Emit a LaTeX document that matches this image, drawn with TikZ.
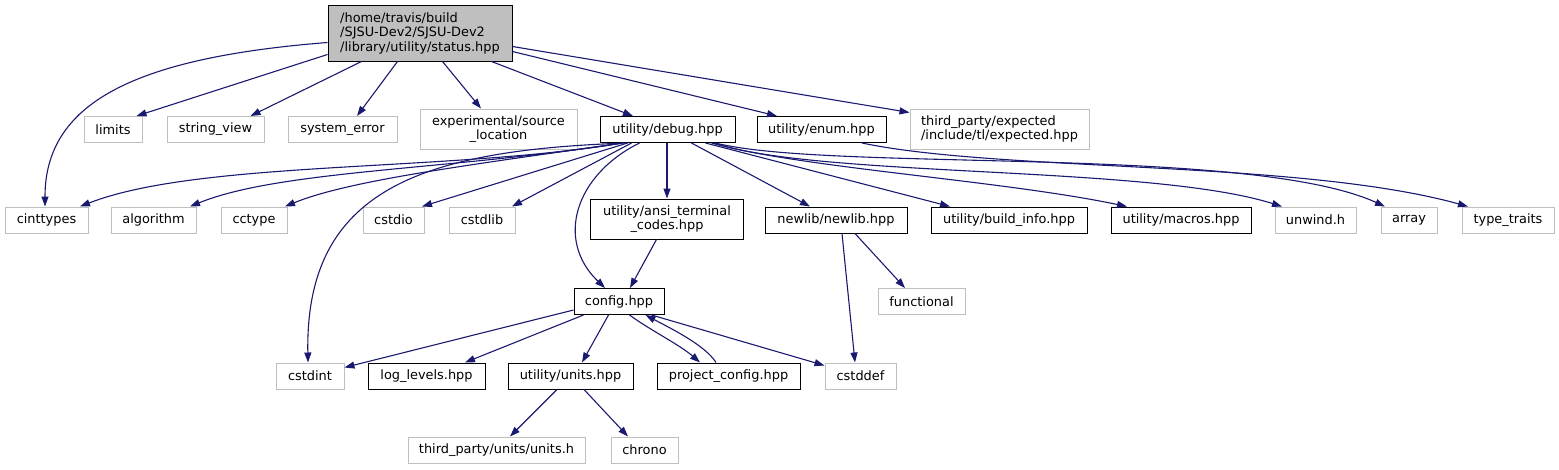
\documentclass[tikz,border=0pt]{standalone}
\usepackage{fontspec}
\setmainfont{DejaVu Sans}
\usetikzlibrary{arrows.meta}
\definecolor{edgeblue}{HTML}{191970}
\definecolor{extgrey}{HTML}{BFBFBF}
\tikzset{
  basebox/.style={rectangle, inner sep=0pt, minimum height=26pt, line width=1pt,
    font=\fontsize{12.9}{14.5}\selectfont},
  docbox/.style={basebox, draw=black},
  extbox/.style={basebox, draw=extgrey},
  dep/.style={draw=edgeblue, line width=1.1pt, -{Triangle[length=10pt,width=7pt]}}
}
\begin{document}
\begin{tikzpicture}[x=1pt,y=-1pt]
\path[use as bounding box] (0,0) rectangle (1559,469);
% top
\node[docbox, fill=extgrey, minimum width=184pt, minimum height=56pt, align=left] (status) at (420,33) {/home/travis/build\\/SJSU-Dev2/SJSU-Dev2\\/library/utility/status.hpp};
% row 1
\node[extbox, minimum width=58pt] (limits) at (113,129.5) {limits};
\node[extbox, minimum width=97pt] (stringview) at (215.5,129.5) {string\_view};
\node[extbox, minimum width=109pt] (syserr) at (342.5,129.5) {system\_error};
\node[extbox, minimum width=157pt, minimum height=40pt, align=center] (exper) at (498.5,129) {experimental/source\\\_location};
\node[docbox, minimum width=135pt] (debug) at (667.5,129.5) {utility/debug.hpp};
\node[docbox, minimum width=129pt] (enum) at (821.5,129.5) {utility/enum.hpp};
\node[extbox, minimum width=179pt, minimum height=40pt, align=left] (expected) at (999.5,129) {third\_party/expected\\/include/tl/expected.hpp};
% row 2
\node[extbox, minimum width=83pt] (cinttypes) at (46.5,220) {cinttypes};
\node[extbox, minimum width=85pt] (algorithm) at (153.5,220) {algorithm};
\node[extbox, minimum width=66pt] (cctype) at (254,220) {cctype};
\node[extbox, minimum width=61pt] (cstdio) at (393.5,220) {cstdio};
\node[extbox, minimum width=66pt] (cstdlib) at (482,220) {cstdlib};
\node[docbox, minimum width=153pt, minimum height=40pt, align=center] (ansi) at (667,219) {utility/ansi\_terminal\\\_codes.hpp};
\node[docbox, minimum width=142pt] (newlib) at (836,220) {newlib/newlib.hpp};
\node[docbox, minimum width=156pt] (buildinfo) at (1009,220) {utility/build\_info.hpp};
\node[docbox, minimum width=140pt] (macros) at (1181,220) {utility/macros.hpp};
\node[extbox, minimum width=81pt] (unwind) at (1315.5,220) {unwind.h};
\node[extbox, minimum width=56pt] (array) at (1409,220) {array};
\node[extbox, minimum width=92pt] (typetraits) at (1508,220) {type\_traits};
% row 3
\node[docbox, minimum width=90pt] (config) at (619,301.5) {config.hpp};
\node[extbox, minimum width=87pt] (functional) at (921.5,301.5) {functional};
% row 4
\node[extbox, minimum width=68pt] (cstdint) at (310,376) {cstdint};
\node[docbox, minimum width=117pt] (loglevels) at (426.5,376) {log\_levels.hpp};
\node[docbox, minimum width=125pt] (units) at (570.5,376) {utility/units.hpp};
\node[docbox, minimum width=143pt] (projcfg) at (728.5,376) {project\_config.hpp};
\node[extbox, minimum width=71pt] (cstddef) at (860.5,376) {cstddef};
% row 5
\node[extbox, minimum width=177pt] (unitsh) at (496.5,450) {third\_party/units/units.h};
\node[extbox, minimum width=67pt] (chrono) at (644.5,450) {chrono};

% status edges
\draw[dep] ([yshift=-38pt]status.north west) .. controls (130,58) and (45,105) .. ([xshift=-1.5pt]cinttypes.north);
\draw[dep] ([yshift=-50pt]status.north west) -- ([xshift=-6pt]limits.north east);
\draw[dep] ([xshift=34pt]status.south west) -- ([xshift=-14pt]stringview.north east);
\draw[dep] ([xshift=70pt]status.south west) -- ([xshift=14.5pt]syserr.north);
\draw[dep] ([xshift=115pt]status.south west) -- ([xshift=-17.5pt]exper.north);
\draw[dep] ([xshift=164pt]status.south west) -- ([xshift=-34.5pt]debug.north);
\draw[dep] ([yshift=-47pt]status.north east) -- ([xshift=-44.5pt]enum.north);
\draw[dep] ([yshift=-42pt]status.north east) -- ([yshift=-4pt]expected.north west);

% debug edges
\draw[dep] ([xshift=23pt]debug.south west) .. controls (450,172) and (200,160) .. ([xshift=33.5pt]cinttypes.north);
\draw[dep] ([xshift=23pt]debug.south west) .. controls (450,170) and (280,170) .. ([xshift=36.5pt]algorithm.north);
\draw[dep] ([xshift=23pt]debug.south west) .. controls (470,165) and (350,180) .. ([xshift=31pt]cctype.north);
\draw[dep] ([xshift=28pt]debug.south west) .. controls (420,150) and (305,190) .. ([xshift=-2pt]cstdint.north);
\draw[dep] ([xshift=28pt]debug.south west) -- ([xshift=28.5pt]cstdio.north);
\draw[dep] ([xshift=32pt]debug.south west) -- ([xshift=30pt]cstdlib.north);
\draw[dep] ([xshift=40pt]debug.south west) .. controls (575,175) and (555,240) .. ([xshift=-14pt]config.north);
\draw[dep] ([xshift=-0.5pt]debug.south) -- (ansi.north);
\draw[dep] ([xshift=92pt]debug.south west) -- ([xshift=-26pt]newlib.north);
\draw[dep] ([xshift=106pt]debug.south west) -- ([xshift=-59pt]buildinfo.north);
\draw[dep] ([xshift=112pt]debug.south west) .. controls (800,168) and (1000,180) .. ([xshift=-54pt]macros.north);
\draw[dep] ([xshift=114pt]debug.south west) .. controls (820,178) and (1150,165) .. ([xshift=-33.5pt]unwind.north);
\draw[dep] ([xshift=116pt]debug.south west) .. controls (830,172) and (1250,145) .. ([xshift=-24pt]array.north);

% enum edge
\draw[dep] ([xshift=40.5pt]enum.south) .. controls (1000,172) and (1300,160) .. ([xshift=-40pt]typetraits.north);

% newlib edges
\draw[dep] ([xshift=19pt]newlib.south) -- ([xshift=-16.5pt]functional.north);
\draw[dep] ([xshift=6pt]newlib.south) -- ([xshift=-5.5pt]cstddef.north);

% ansi edge
\draw[dep] ([xshift=-10.5pt]ansi.south) -- ([xshift=11pt]config.north);

% config edges
\draw[dep] ([yshift=-8.5pt]config.west) -- ([yshift=-5pt]cstdint.north east);
\draw[dep] ([xshift=10pt]config.south west) -- ([xshift=38.5pt]loglevels.north);
\draw[dep] ([xshift=35pt]config.south west) -- ([xshift=11.5pt]units.north);
\draw[dep] ([xshift=56pt]config.south west) .. controls (650,330) and (680,345) .. ([xshift=-28.5pt]projcfg.north);
\draw[dep] ([xshift=-12.5pt]projcfg.north) .. controls (705,345) and (670,328) .. ([xshift=72pt]config.south west);
\draw[dep] ([xshift=78pt]config.south west) -- ([yshift=-3pt]cstddef.north west);

% units edges
\draw[dep] ([xshift=-13.5pt]units.south) -- ([xshift=13.5pt]unitsh.north);
\draw[dep] ([xshift=13.5pt]units.south) -- ([xshift=-16.5pt]chrono.north);
\end{tikzpicture}
\end{document}
